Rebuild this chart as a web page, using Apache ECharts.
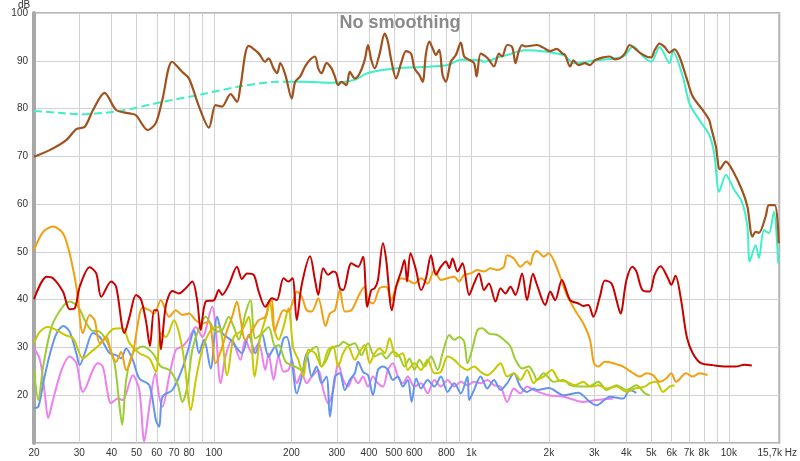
<!DOCTYPE html>
<html><head><meta charset="utf-8">
<script src="https://cdn.jsdelivr.net/npm/echarts@6/dist/echarts.min.js"></script>
<style>html,body{margin:0;padding:0;background:#fff}#c{width:800px;height:461px}</style>
</head><body><div id="c"></div>
<script>
// frequency grid lines and labels (Hz)
const gridFreqs = [20,30,40,50,60,70,80,90,100,200,300,400,500,600,700,800,900,1000,2000,3000,4000,5000,6000,7000,8000,9000,10000];
const labelFreqs = [20,30,40,50,60,70,80,100,200,300,400,500,600,800,1000,2000,3000,4000,5000,6000,7000,8000,10000,15700];
const dbTicks = [10,20,30,40,50,60,70,80,90,100];

// series: [Hz, dB]
const brown = [[20,69.9],[23,71.3],[26.7,73.4],[29.2,75.7],[31.5,76.2],[33.9,79.7],[37.6,83.3],[41.7,79.7],[47,79],[49.8,78.6],[55.3,75.5],[59.5,77],[63,81.8],[68.8,89.8],[75.2,87.7],[80,86.3],[87.5,80.4],[95.6,76],[101.5,80.7],[107.3,80.4],[116,83],[123,81.4],[126.7,84.6],[136.5,93.1],[149,91.6],[158,89.8],[163,90.5],[170.4,88.4],[176,87.4],[181,89.5],[189.5,87],[200.5,82.1],[206.7,85.6],[216.1,86.7],[225.9,88.8],[236.2,90.2],[246.9,90.9],[254.2,88.4],[261.8,87.4],[273.7,89.5],[286.2,88.4],[295,86.7],[303.7,84.9],[312.8,85.6],[327,84.9],[337,87.7],[352.4,86.3],[368.4,87.4],[385.2,90.2],[396.6,93.3],[408.4,90.2],[421,88.4],[440.2,91.5],[460.2,95.7],[473.9,94],[488,90.2],[510.1,86.3],[533.3,89.5],[557.6,92],[583,91.5],[600.9,88.4],[628.2,87],[646.9,85.6],[666.2,91.5],[686.7,94],[707.1,92.6],[728.2,91.2],[750.6,92.3],[772.9,87],[796,85.6],[832.3,89.8],[870.2,91.2],[909.8,93.8],[937.7,90.9],[980.4,90.2],[1024,89.5],[1048,86.7],[1086,91.5],[1136,90.9],[1170,90.2],[1224,88.8],[1279,91.5],[1317,90.9],[1377,93.3],[1440,92.9],[1483,89.5],[1528,92],[1574,93.3],[1620,93],[1798,93.3],[1909,92.7],[2019,92],[2148,92.5],[2246,91.6],[2312,91.2],[2418,88.8],[2492,90.1],[2605,89.1],[2762,89.5],[2888,89.1],[3019,90.1],[3253,90.7],[3450,90.9],[3607,90.3],[3771,90.5],[3943,91.5],[4121,93.3],[4308,92.6],[4506,91.7],[4783,90.9],[5001,90.7],[5149,92.2],[5384,93.6],[5628,92.9],[5884,91.7],[6151,92.4],[6426,90.9],[6824,86.7],[7242,82.5],[7915,79.7],[8391,77.6],[8520,76.2],[8910,72],[9234,67.3],[9740,68.9],[10336,67.1],[11236,63],[11806,59.5],[12343,53.2],[12713,54.2],[13091,54],[13896,57.4],[14310,59.8],[15090,59.8],[15630,51.8]];
const cyanDashed = [[20,79.5],[25,79.1],[30.1,78.8],[43,79.5],[63.1,81.4],[90.1,83],[128.5,84.7],[178.2,85.6],[192,85.6]];
const cyanSolid = [[192,85.6],[222,85.6],[286,85.4],[352,86],[394,87.4],[503,88.4],[697,88.8],[808,89.1],[910,90.2],[1086,90.1],[1120,89.8],[1298,90.9],[1377,91.2],[1610,92.2],[2280,91.2],[2492,89.5],[3066,90.1],[3887,90.9],[4248,93],[4645,90.9],[5001,89.8],[5384,92.9],[5884,89.5],[6064,92],[6624,86.7],[7027,81.1],[7679,77.6],[8391,74.5],[8774,70.6],[9177,62.6],[9740,66.1],[10484,63],[11236,60.5],[11806,55.3],[12050,48],[12713,51.4],[13091,48.7],[13690,54.6],[14310,53.9],[14960,58.4],[15550,47.6]];
const red = [[20,40.1],[22.4,44.8],[23.7,44.5],[25.9,41.7],[27.5,38],[28.8,38.2],[30.1,42.7],[32.9,46.8],[34.9,45.5],[36.5,40.6],[39.9,43.8],[41.7,42.7],[44.9,33],[47,36.4],[49.8,41],[52.1,40],[54.5,35.4],[56.4,30.3],[58.6,37.8],[60.4,37.8],[62.2,29.6],[65.1,38.9],[69,41.8],[73.2,41.3],[77.7,42.4],[82.4,43.8],[86.2,39.6],[88.8,33.6],[92.9,39.6],[100,39.9],[104.5,42],[107.6,41],[114.2,43.1],[122.9,46.9],[128.5,44.3],[134.4,45.5],[142.7,45.2],[149.2,41.7],[158.3,38.5],[167.9,40.3],[175.5,39.9],[186.3,44.5],[194.7,43.8],[202,44.5],[209.7,35.7],[219.2,43.1],[236.2,49.1],[246.9,44.1],[254.2,41],[265.8,46.6],[277.9,45.2],[290.6,45.9],[299.2,45.5],[308.4,42.4],[317.6,42],[341.9,47.6],[362.9,46.9],[379.4,49],[394,38.5],[408.4,42],[421,42.4],[433.5,44.1],[453.3,51.8],[466.8,48.3],[491,37.8],[510.1,42.7],[533.3,45.9],[549.7,48.3],[562.6,43.8],[580,49.7],[609.5,46.2],[637.2,42],[666.2,44.5],[696.5,49.3],[728.2,45.2],[761.3,46.9],[796,48],[820.6,46.6],[845,48.6],[883.4,45.9],[923.6,47.6],[980.4,41],[1024,43.4],[1070,45.5],[1120,42],[1170,43.4],[1241,39.6],[1298,42.4],[1356,41.3],[1418,42.7],[1483,41],[1574,45.5],[1645,39.9],[1735,45.4],[1798,43.1],[1936,38.9],[2024,41.7],[2116,39.9],[2246,44.1],[2418,39.9],[2605,39.2],[2723,38.7],[2847,38.9],[2976,36.4],[3156,40.6],[3300,44],[3503,43.4],[3662,39.9],[3795,37.1],[4002,44.1],[4221,46.9],[4375,45.9],[4616,42],[4926,41.7],[5149,45.2],[5432,47],[5801,44.5],[5973,43.1],[6206,45],[6525,39.9],[6866,32.2],[7242,28.8],[7796,26.7],[8650,26.3],[9740,26],[10642,26],[11500,26.4],[12280,26.2]];
const orange = [[20,50.4],[21.7,54.2],[23.7,55.3],[25.9,53.9],[27.5,49.7],[29.2,42.7],[31,33],[32.9,36.8],[34.4,35.7],[36,30.9],[38.2,32.2],[39.9,28.8],[41.7,27],[43.6,29.1],[45.6,25.3],[48.4,28.8],[52.9,38.3],[56.1,37.8],[58.6,37.1],[62.2,39.9],[67,36.4],[71.1,37.8],[75.4,36.8],[80,37.1],[84.9,35.7],[90.1,35],[95.6,35.4],[101.5,26.7],[106.1,29.1],[112.5,33.6],[117.6,36.4],[122.9,39.6],[126.7,36.1],[132.5,31.6],[149.2,35.7],[158.3,36.4],[163,39],[167.9,40],[172,33.3],[178.2,35.7],[186.3,37.8],[194.7,37.5],[203.5,39.9],[209.7,41.7],[219.2,40.6],[229.1,37.8],[239.6,37.5],[254.2,40.3],[271.3,34.5],[282.2,37.1],[295,37.8],[308.4,42],[322.4,37.5],[341.9,37.8],[368.4,41.3],[385.2,42.7],[396.6,39.9],[414.7,39.2],[440.2,42.4],[466.8,42.7],[488,39.9],[510.1,42.7],[533.3,44.5],[566.1,44.1],[600.9,43.4],[637.2,44.5],[676.3,43.4],[717.9,46.2],[761.3,44.1],[808.2,44.5],[857.9,44.8],[897,43.8],[937.7,45.2],[994.4,45.5],[1055,46.2],[1120,45.9],[1187,46.6],[1260,46.2],[1337,46.9],[1377,49.3],[1462,48.6],[1550,46.9],[1645,48],[1694,47.3],[1735,49.3],[1798,50.2],[1909,49],[1995,49.7],[2086,48.3],[2212,44.8],[2348,41],[2527,37.8],[2723,35],[2888,31.6],[2992,26.7],[3112,26],[3300,27],[3556,26.7],[3887,26],[4248,24.6],[4506,23.9],[4783,24.6],[5075,24.2],[5384,22.8],[5714,23.5],[5973,24.6],[6242,22.8],[6824,24.6],[7242,23.9],[7679,24.6],[8273,24.2]];
const yellow = [[20,30.9],[21.1,33.3],[22.7,34.3],[24.5,33.6],[26.4,32.6],[28.4,31.9],[31,27.7],[33.4,29.1],[36.5,30.9],[40.5,33.8],[44.2,34],[47,30.9],[51.3,28.8],[56.1,27.7],[59.5,24.9],[62.2,33],[65.1,32.2],[70,35.7],[73.2,33],[76.6,27.4],[81.3,16.9],[85,23.2],[90.1,29.5],[97.1,33.6],[104.5,34.3],[112.5,24.2],[119.4,32.2],[128.5,33.6],[136.5,36.4],[143.9,23.9],[151.4,32.2],[160.6,37],[165,39.6],[170.4,34.3],[178.2,31.6],[186.3,34.3],[194.7,38.2],[203.5,29.8],[212.8,27.4],[222.5,23.9],[232.6,29.5],[246.9,28.8],[261.8,26],[277.9,29.5],[290.6,30.2],[303.7,26],[317.6,28.8],[332,30.2],[352.4,27.4],[368.4,29.1],[385.2,30.5],[402.7,26.7],[421,28.8],[440.2,29.8],[460.2,28.8],[481.1,31.9],[510.1,28.1],[541.5,28.8],[566.1,25.3],[600.9,26.7],[637.2,25.3],[676.3,27.4],[717.9,24.6],[761.3,24.9],[808.2,28.1],[857.9,27.4],[909.8,26],[965.6,25.3],[1024,26],[1086,24.9],[1153,24.2],[1224,25.3],[1298,26.7],[1377,23.9],[1462,24.6],[1550,23.2],[1645,25.3],[1746,22.5],[1798,23.2],[1909,23.9],[2055,25.3],[2181,23.2],[2348,22.8],[2527,22.1],[2723,22.8],[2888,21.8],[3112,22.1],[3350,21.4],[3662,21.8],[4002,20.7],[4308,21.4],[4711,21.8],[4926,22.5],[5225,22.8],[5549,20.7],[5884,21.8],[6151,22.1]];
const green = [[20,25.3],[20.8,19],[21.7,26],[23.4,34.3],[25.6,38.2],[27.5,39.6],[29.7,38.5],[31.5,35.7],[33.4,33.6],[36,33.3],[38.7,30.9],[41.1,26.7],[43,17.6],[44,13.8],[45.6,23.2],[48.4,28.8],[52.9,30.2],[57.8,28.8],[62.2,26],[67,25.3],[72.1,22.5],[75.4,18.6],[78.8,21.8],[82.4,29.5],[87.5,34],[92.9,36.4],[97.1,35],[101.5,33.3],[107.6,33.6],[114.2,36.4],[119.4,34.3],[124.8,31.6],[132.5,37.1],[138.5,39.9],[144.8,31.9],[153.6,32.9],[163,34.3],[173,30.2],[178.2,30.5],[190,27],[206.7,26],[219.2,25.3],[232.6,28.8],[250.4,30.2],[261.8,26],[273.7,27.4],[286.2,29.8],[308.4,30.5],[317.6,31.2],[337,30.5],[352.4,30.9],[373.7,28.4],[396.6,30.9],[421,28.1],[446.5,28.8],[466.8,27.7],[495.4,29.1],[525.8,28.1],[549.7,26],[574.8,27.7],[600.9,25.3],[628.2,27.4],[656.8,26],[696.5,28.1],[739.3,25.3],[772.9,28.8],[820.6,32.6],[857.9,31.6],[897,32.2],[937.7,31.2],[965.6,26.7],[1009,29.8],[1055,33.6],[1103,34],[1170,32.9],[1260,32.6],[1337,31.6],[1418,30.2],[1483,27.4],[1574,25.6],[1670,26],[1746,24.6],[1798,23.2],[1909,24.6],[2086,22.8],[2280,23.2],[2418,22.1],[2642,21.8],[2847,21.8],[3112,22.8],[3350,21.1],[3662,22.1],[4002,21.1],[4375,22.1],[4711,20.4],[4926,20]];
const blue = [[20,17.3],[20.8,17.6],[21.7,22.5],[23.1,28.8],[24.5,33],[26,34.5],[27.5,33.3],[29.2,28.8],[30.1,26.3],[31.5,28.8],[33.9,33],[36,32.2],[39.3,28.8],[41.7,28.4],[43.6,27.7],[45.6,29.8],[48.4,27.4],[51.3,23.5],[56.1,22.1],[59.5,14.8],[61.3,13.4],[63.1,19.7],[69,21.1],[75.4,25.6],[80,30.2],[83.7,33.6],[87.5,28.8],[91.5,31.6],[97.1,25.6],[102.9,36.4],[107.6,33],[115.9,31.6],[128.5,28.8],[136.5,32.6],[144.8,28.8],[153.6,32.9],[163,28.1],[173,30.2],[178.2,28.1],[186.3,31.9],[191.8,32.2],[200.5,27.4],[209.7,20.4],[219.2,23.9],[229.1,28.8],[239.6,23.9],[250.4,26],[261.8,22.5],[273.7,23.9],[282.2,15.5],[295,23.9],[308.4,24.6],[322.4,21.1],[337,23.2],[352.4,24.6],[362.9,27],[379.4,24.9],[396.6,24.2],[414.7,20],[433.5,25.3],[453.3,26],[473.9,25.3],[495.4,23.2],[517.9,23.9],[541.5,21.8],[566.1,23.2],[586,18.6],[610,23.5],[637.2,21.4],[676.3,23.2],[717.9,21.8],[761.3,23.9],[808.2,20.7],[857.9,22.5],[909.8,20.4],[965.6,23.9],[980,19],[1024,21.1],[1086,23.9],[1153,21.4],[1224,23.2],[1298,21.1],[1377,22.5],[1462,24.6],[1550,21.8],[1645,20.7],[1746,21.4],[1798,21.1],[2000,21.5],[2280,20],[2600,20.5],[2888,18.6],[3066,17.9],[3450,19.7],[3887,19.3],[4121,21.1],[4375,20.5]];
const pink = [[20,29.8],[21.1,27.4],[22.1,19.7],[22.7,15.2],[23.7,19],[25.6,25.3],[27.5,28.1],[29.2,26.7],[31,20.7],[35.4,26.7],[37,26],[39.9,18.3],[42.3,19.3],[44.2,19],[48.4,24.2],[51.3,21.1],[53.6,10.3],[56.1,17.6],[59.2,24.6],[61.3,19.7],[63.1,17.6],[67,23.9],[71.1,29.5],[75.4,30.2],[80,31.9],[85,34.3],[90.1,32.2],[98.5,38.5],[101.5,34.3],[106.1,22.5],[110.9,28.1],[117.6,31.6],[126.7,27.4],[132.5,31.6],[140.5,28.8],[149.2,30.9],[158.3,25.3],[163,28.8],[170.4,23.2],[178.2,28.1],[186.3,24.9],[194.7,25.3],[200.5,27.4],[209.7,22.5],[219.2,24.6],[229.1,22.5],[239.6,23.9],[254.2,25.3],[265.8,21.1],[277.9,18.3],[290.6,21.1],[303.7,26.7],[317.6,23.2],[332,21.8],[347.1,23.9],[362.9,22.5],[379.4,23.9],[396.6,21.8],[414.7,23.9],[433.5,22.5],[453.3,21.8],[473.9,25.3],[495.4,26.7],[517.9,23.9],[541.5,22.5],[566.1,23.9],[600.9,21.8],[637.2,22.5],[676.3,20.4],[717.9,23.2],[761.3,21.8],[808.2,23.2],[857.9,21.8],[909.8,22.8],[965.6,22.1],[1024,22.8],[1086,22.5],[1153,23.2],[1224,22.1],[1298,21.8],[1377,18.6],[1462,21.4],[1550,20.4],[1645,21.8],[1746,21.1],[1995,20],[2280,19.7],[2723,18.6],[3066,19],[3556,19.3]];

const lg = v => Math.log10(v);
const toXY = arr => arr.map(p => [lg(p[0]), p[1]]);

function line(name, data, color, width, dashed) {
  return {
    name, type: 'line', data: toXY(data), symbol: 'none', smooth: 0.3,
    lineStyle: { color, width, type: dashed ? [8, 4] : 'solid' },
    itemStyle: { color }, animation: false, silent: true
  };
}

const chart = echarts.init(document.getElementById('c'), null, { renderer: 'canvas' });
chart.setOption({
  backgroundColor: '#ffffff',
  animation: false,
  title: [
    { text: 'No smoothing', left: 'center', top: 9, textStyle: { fontFamily: 'Liberation Sans, Arial, sans-serif', fontSize: 18, fontWeight: 'bold', color: '#8a8a8a' } },
    { text: 'dB', left: 13, top: -5, textStyle: { fontFamily: 'Liberation Sans, Arial, sans-serif', fontSize: 10, fontWeight: 'normal', color: '#333' } }
  ],
  grid: { left: 34, right: 16, top: 13, bottom: 18, show: true, borderColor: '#b4b4b4', borderWidth: 2, backgroundColor: '#fff' },
  xAxis: {
    type: 'value', min: lg(20), max: lg(15700),
    axisLine: { show: false },
    axisTick: { show: false, customValues: gridFreqs.map(lg) },
    splitLine: { show: true, lineStyle: { color: '#d2d2d2', width: 1 } },
    axisLabel: {
      customValues: labelFreqs.map(lg), margin: 5, color: '#333', fontSize: 10,
      fontFamily: 'Liberation Sans, Arial, sans-serif',
      formatter: v => {
        const f = Math.round(Math.pow(10, v));
        if (f === 15700) return '{e|15,7k Hz}';
        if (f >= 1000) return (f / 1000) + 'k';
        return String(f);
      },
      rich: { e: { fontSize: 10, color: '#333', fontFamily: 'Liberation Sans, Arial, sans-serif', padding: [0, 4, 0, 0] } }
    }
  },
  yAxis: {
    type: 'value', min: 10, max: 100, interval: 10,
    axisLine: { show: true, lineStyle: { color: '#a8a8a8', width: 4 } },
    axisTick: { show: false },
    splitLine: { show: true, lineStyle: { color: '#d2d2d2', width: 1 } },
    axisLabel: { margin: 6, color: '#333', fontSize: 10, fontFamily: 'Liberation Sans, Arial, sans-serif',
      formatter: v => (v === 10 ? '' : String(v)) }
  },
  series: [
    line('pink', pink, '#ee7fee', 2),
    line('blue', blue, '#6495ed', 2),
    line('green', green, '#9acd32', 2),
    line('yellow', yellow, '#c8c800', 2),
    line('orange', orange, '#f0a010', 2),
    line('red', red, '#c80000', 2),
    line('cyanDashed', cyanDashed, '#3cf0c8', 2, true),
    line('cyanSolid', cyanSolid, '#3cf0c8', 2),
    line('brown', brown, '#a0521e', 2.2)
  ]
});
</script></body></html>
